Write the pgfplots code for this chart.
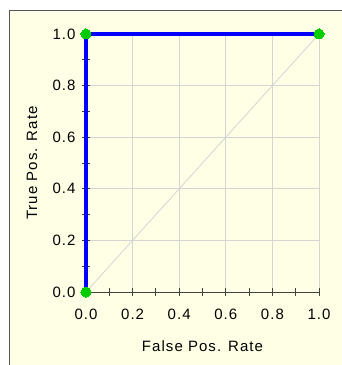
\documentclass[border=0pt]{standalone}
\usepackage{pgfplots}
\pgfplotsset{compat=1.18}
\usepackage{fontspec}
\setmainfont{Liberation Sans}[LetterSpace=7]
\definecolor{panel}{HTML}{FFFFE6}
\definecolor{frame}{HTML}{555555}
\definecolor{gridc}{HTML}{D4D4D4}
\definecolor{axc}{HTML}{404040}
\definecolor{dotc}{HTML}{00CC00}
\begin{document}
\begin{tikzpicture}[font=\fontsize{15bp}{18bp}\selectfont]
\path[use as bounding box] (-86bp,-73bp) rectangle (256bp,292bp);
\fill[white] (-86bp,-73bp) rectangle (256bp,292bp);
\fill[panel] (-77bp,-73bp) rectangle (256bp,282bp);
\draw[frame, line width=1.2bp] (-76.5bp,-73bp) -- (-76.5bp,281.5bp) -- (256bp,281.5bp);
\begin{axis}[
  at={(0,0)}, anchor=origin,
  scale only axis, width=233bp, height=258bp,
  xmin=0, xmax=1, ymin=0, ymax=1,
  axis x line*=bottom, axis y line*=left,
  axis line style={axc, line width=1bp},
  xtick={0,0.2,...,1.0}, ytick={0,0.2,...,1.0},
  minor xtick={0.1,0.3,...,0.9}, minor ytick={0.1,0.3,...,0.9},
  tick align=center, major tick length=8bp, minor tick length=8bp,
  tick style={axc, line width=1bp},
  grid=major, major grid style={gridc, line width=0.8bp},
  minor grid style={draw=none},
  /pgf/number format/assume math mode=true,
  /pgf/number format/.cd, fixed, fixed zerofill, precision=1, /pgfplots/.cd,
  xticklabel style={anchor=north, yshift=-10bp},
  yticklabel style={anchor=east, xshift=-3bp},
  xlabel={False Pos. Rate}, ylabel={True Pos. Rate},
  xlabel style={at={(axis description cs:0.5,0)}, anchor=center, yshift=-54bp},
  ylabel style={at={(axis description cs:-0.232,0.5)}, anchor=center},
  clip=false,
]
\addplot[gridc, line width=0.8bp] coordinates {(0,0) (1,1)};
\addplot[blue, line width=4bp, mark=*, mark size=5bp, mark options={draw=dotc, fill=dotc, line width=0bp}] coordinates {(0,0) (0,1) (1,1)};
\end{axis}
\end{tikzpicture}
\end{document}
